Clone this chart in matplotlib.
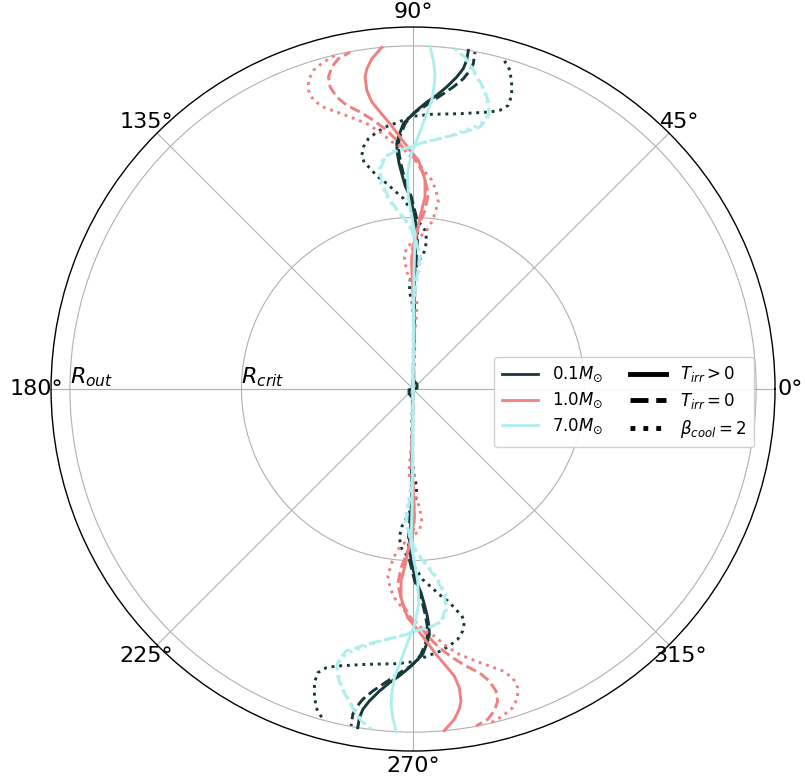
import numpy as np
import matplotlib
matplotlib.use("Agg")
import matplotlib.pyplot as plt
from matplotlib.lines import Line2D

# Spiral arm shapes: radius (units of R_out) and polar angle (degrees) of the upper arm.
# The lower arm is the same curve rotated by 180 degrees.
r_01_irr = [0.0, 0.012, 0.018, 0.025, 0.084, 0.2, 0.3, 0.4, 0.443, 0.502, 0.560, 0.594, 0.629,
            0.659, 0.688, 0.717, 0.736, 0.774, 0.793, 0.812, 0.837, 0.859, 0.886, 0.918,
            0.945, 0.971, 1.0]
th_01_irr = [-20, 10, 50, 85, 89.0, 89.2, 89.3, 89.0, 88.6, 89.33, 90.9, 92.25, 93.0,
             93.54, 93.81, 93.8, 93.33, 92.09, 90.63, 89.24, 87.27, 85.39, 83.64, 82.03,
             81.09, 80.73, 80.73]

r_01_noirr = [0.0, 0.1, 0.2, 0.3, 0.4, 0.443, 0.502, 0.560, 0.594, 0.629, 0.659, 0.688, 0.717,
              0.736, 0.774, 0.793, 0.807, 0.822, 0.843, 0.865, 0.888, 0.916, 0.943, 0.964,
              0.998]
th_01_noirr = [90, 89.3, 89.0, 89.0, 88.5, 88.2, 88.9, 90.5, 91.85, 92.6, 93.1, 93.4, 93.4,
               93.0, 91.7, 90.6, 89.59, 87.91, 85.98, 84.15, 82.41, 80.80, 79.87, 79.51,
               79.58]

r_01_beta = [0.0, 0.084, 0.143, 0.2, 0.259, 0.283, 0.317, 0.361, 0.401, 0.433, 0.464, 0.502,
             0.556, 0.579, 0.604, 0.629, 0.655, 0.676, 0.697, 0.720, 0.741, 0.756, 0.769,
             0.779, 0.795, 0.802, 0.814, 0.838, 0.851, 0.872, 0.903, 0.935, 0.971, 0.998]
th_01_beta = [90, 88.0, 88.5, 89.2, 90.8, 92.2, 91.6, 88.2, 85.4, 84.7, 85.7, 89.33,
              92.9, 95.19, 97.3, 99.59, 101.0, 102.18, 102.37, 101.59, 100.11, 98.03, 95.71,
              93.15, 89.94, 86.46, 80.33, 74.48, 72.68, 71.45, 71.44, 72.1, 73.09, 74.73]

r_10_irr = [0.0, 0.17, 0.288, 0.361, 0.405, 0.453, 0.502, 0.561, 0.609, 0.638, 0.667, 0.696,
            0.735, 0.776, 0.813, 0.845, 0.881, 0.920, 0.943, 0.970, 1.0]
th_10_irr = [90, 89.0, 90.0, 90.6, 90.0, 88.64, 87.67, 86.43, 86.7, 87.65, 88.67, 90.72,
             92.95, 94.95, 96.79, 98.18, 98.80, 98.74, 98.21, 97.12, 95.22]

r_10_noirr = [0.0, 0.17, 0.288, 0.361, 0.405, 0.473, 0.522, 0.571, 0.629, 0.676, 0.681, 0.716,
              0.758, 0.792, 0.822, 0.849, 0.879, 0.913, 0.942, 0.968, 0.987, 0.999]
th_10_noirr = [90, 89.3, 90.0, 90.6, 90.4, 88.13, 86.16, 85.53, 87.27, 89.9, 91.15, 93.03,
               95.80, 98.40, 100.82, 103.14, 104.63, 105.35, 105.17, 104.16, 102.73, 100.58]

r_10_beta = [0.0, 0.143, 0.225, 0.254, 0.322, 0.342, 0.385, 0.415, 0.434, 0.470, 0.500, 0.550,
             0.583, 0.611, 0.652, 0.696, 0.723, 0.755, 0.785, 0.814, 0.837, 0.862, 0.890,
             0.922, 0.950, 0.973, 0.988, 0.999]
th_10_beta = [90, 88.8, 87.26, 87.57, 91.55, 93.07, 93.77, 92.53, 88.58, 84.56, 83.22, 82.31,
              83.41, 84.89, 88.21, 91.51, 94.92, 97.31, 99.88, 103.03, 105.38, 107.63, 109.03,
              109.30, 108.72, 107.36, 105.33, 103.15]

r_70_irr = [0.0, 0.2, 0.346, 0.453, 0.502, 0.560, 0.628, 0.686, 0.725, 0.764, 0.804, 0.843,
            0.882, 0.921, 0.960, 1.0]
th_70_irr = [90, 89.6, 89.5, 89.26, 90.43, 91.4, 91.51, 90.4, 89.15, 88.10, 87.16, 86.30,
             86.03, 86.01, 86.47, 87.17]

r_70_noirr = [0.0, 0.259, 0.332, 0.382, 0.419, 0.477, 0.502, 0.554, 0.606, 0.645, 0.681, 0.693,
              0.705, 0.716, 0.734, 0.757, 0.788, 0.817, 0.837, 0.865, 0.895, 0.924, 0.954,
              0.979, 1.0]
th_70_noirr = [90, 90, 88.0, 86.94, 88.4, 91.05, 93.22, 96.94, 98.65, 98.57, 96.87, 94.75,
               90.7, 88.37, 83.85, 79.58, 75.67, 74.65, 74.62, 75.31, 76.46, 78.13, 79.68,
               81.11, 82.97]

r_70_beta = [0.0, 0.259, 0.332, 0.382, 0.419, 0.477, 0.502, 0.554, 0.606, 0.645, 0.681, 0.693,
             0.703, 0.722, 0.740, 0.768, 0.795, 0.822, 0.845, 0.870, 0.898, 0.926, 0.955,
             0.979, 1.0]
th_70_beta = [90, 89.5, 87.5, 86.5, 88.0, 91.5, 93.6, 97.3, 99.0, 98.9, 97.2, 95.0,
              91.0, 87.0, 82.8, 78.8, 75.8, 74.9, 74.9, 75.7, 76.8, 78.4, 79.9,
              81.3, 83.1]

mass_labels = [r"0.1$M_{\odot}$", r"1.0$M_{\odot}$", r"7.0$M_{\odot}$"]
style_labels = [r"$T_{irr}>0$", r"$T_{irr}=0$", r"$\beta_{cool}=2$"]
radial_ticks = [0.5, 1.0]
radial_labels = [r"$R_{crit}$", r"$R_{out}$"]
angle_ticks = [0, 45, 90, 135, 180, 225, 270, 315]

colors = ["#17393c", "#f08080", "#afeeee"]
styles = ["-", "--", ":"]

curves = [
    [(r_01_irr, th_01_irr), (r_01_noirr, th_01_noirr), (r_01_beta, th_01_beta)],
    [(r_10_irr, th_10_irr), (r_10_noirr, th_10_noirr), (r_10_beta, th_10_beta)],
    [(r_70_irr, th_70_irr), (r_70_noirr, th_70_noirr), (r_70_beta, th_70_beta)],
]

fig = plt.figure(figsize=(8.05, 7.81), dpi=100)
ax = fig.add_axes([0.0634, 0.0384, 0.8994, 0.927], projection="polar")

for color, group in zip(colors, curves):
    for ls, (r, th) in zip(styles, group):
        r = np.asarray(r)
        th = np.deg2rad(np.asarray(th))
        for arm in (0.0, np.pi):
            ax.plot(th + arm, r, color=color, ls=ls, lw=2.1)

ax.set_rmax(1.055)
ax.set_rmin(0)
ax.set_rgrids(radial_ticks, labels=radial_labels, angle=180, fontsize=16)
ax.set_thetagrids(angle_ticks, labels=[""] * len(angle_ticks))
ax.grid(color="#b0b0b0", lw=0.8)
ax.spines["polar"].set_linewidth(1.0)

# angle labels centred on a ring just outside the frame
ring = 0.5 * 1.0414
for a in angle_ticks:
    t = np.deg2rad(a)
    ax.text(0.5 + ring * np.cos(t), 0.5 + ring * np.sin(t), f"{a}°",
            transform=ax.transAxes, ha="center", va="center", fontsize=16)

mass_handles = [Line2D([], [], color=c, lw=2) for c in colors]
style_handles = [Line2D([], [], color="black", ls=s, lw=3.5) for s in styles]
ax.legend(mass_handles + style_handles, mass_labels + style_labels, ncol=2,
          loc="center right", bbox_to_anchor=(0.982, 0.482), fontsize=12,
          handlelength=2.2, columnspacing=1.6, borderpad=0.45, labelspacing=0.4,
          handletextpad=0.8, framealpha=0.9)

fig.savefig("out.png", dpi=100)
